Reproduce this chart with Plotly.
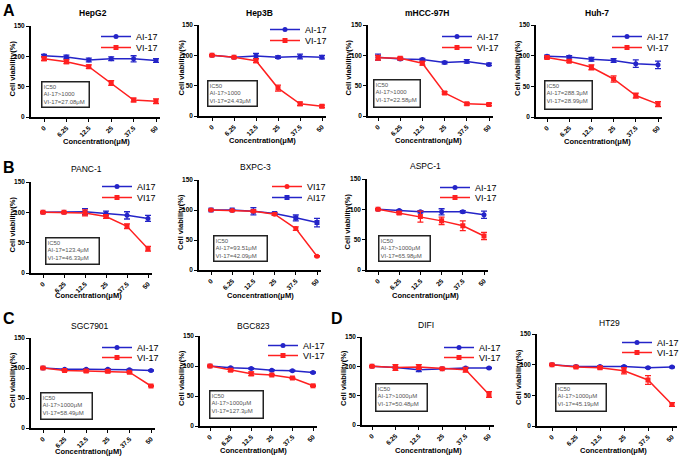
import plotly.graph_objects as go

W, H = 685, 458
FONT = "Arial, Liberation Sans, sans-serif"
BLUE = "#2424c8"
RED = "#ff2020"

conc = ["0", "6.25", "12.5", "25", "37.5", "50"]

# ---- data (cell viability %, mean and error) ----
hepg2_ai = [101, 99, 94, 96, 96, 93]
hepg2_ai_err = [2, 3, 3, 3, 5, 3]
hepg2_vi = [96, 91, 83, 56, 28, 26]
hepg2_vi_err = [3, 3, 3, 4, 3, 4]

hep3b_ai = [100, 97, 99, 97, 98, 97]
hep3b_ai_err = [1, 1, 4, 2, 4, 3]
hep3b_vi = [100, 97, 91, 46, 20, 16]
hep3b_vi_err = [1, 1, 3, 5, 3, 2]

mhcc_ai = [97, 94, 93, 88, 90, 85]
mhcc_ai_err = [5, 2, 2, 2, 3, 2]
mhcc_vi = [96, 95, 87, 38, 20, 19]
mhcc_vi_err = [4, 2, 3, 2, 2, 2]

huh7_ai = [99, 98, 94, 92, 87, 85]
huh7_ai_err = [2, 2, 3, 3, 6, 6]
huh7_vi = [97, 91, 81, 62, 35, 21]
huh7_vi_err = [2, 2, 4, 5, 4, 4]

panc1_ai = [100, 100, 101, 98, 95, 90]
panc1_ai_err = [1, 1, 5, 4, 6, 5]
panc1_vi = [100, 100, 99, 93, 77, 40]
panc1_vi_err = [1, 1, 5, 3, 4, 4]

bxpc3_ai = [100, 100, 98, 94, 87, 79]
bxpc3_ai_err = [1, 1, 6, 2, 5, 7]
bxpc3_vi = [100, 99, 98, 93, 69, 23]
bxpc3_vi_err = [1, 1, 2, 2, 3, 1]

aspc1_ai = [100, 98, 96, 96, 96, 91]
aspc1_ai_err = [1, 1, 2, 5, 2, 6]
aspc1_vi = [100, 94, 88, 81, 73, 56]
aspc1_vi_err = [1, 2, 9, 6, 8, 6]

sgc_ai = [100, 98, 98, 98, 97, 96]
sgc_ai_err = [1, 1, 1, 1, 1, 1]
sgc_vi = [100, 96, 95, 94.5, 93, 70]
sgc_vi_err = [1, 1, 2, 2, 1, 1]

bgc_ai = [100, 97, 96, 93, 92, 89]
bgc_ai_err = [1, 1, 1, 1, 1, 1]
bgc_vi = [100, 93, 87, 85, 80, 67]
bgc_vi_err = [1, 2, 3, 1, 1, 1]

difi_ai = [100, 98, 94, 96, 97, 97]
difi_ai_err = [1, 1, 3, 1, 1, 1]
difi_vi = [100, 98, 99, 96, 94, 52]
difi_vi_err = [1, 5, 4, 1, 4, 5]

ht29_ai = [100, 97, 97, 97, 95, 96]
ht29_ai_err = [1, 1, 1, 1, 1, 1]
ht29_vi = [100, 96, 95, 90, 75, 35]
ht29_vi_err = [1, 1, 2, 5, 7, 3]

titles = ["HepG2", "Hep3B", "mHCC-97H", "Huh-7", "PANC-1", "BXPC-3", "ASPC-1",
          "SGC7901", "BGC823", "DIFI", "HT29"]
ic50_texts = [
    ["IC50", "AI-17>1000", "VI-17=27.08μM"],
    ["IC50", "AI-17>1000", "VI-17=24.43μM"],
    ["IC50", "AI-17>1000", "VI-17=22.58μM"],
    ["IC50", "AI-17=288.3μM", "VI-17=28.99μM"],
    ["IC50", "AI-17=123.4μM", "VI-17=46.33μM"],
    ["IC50", "AI-17=93.51μM", "VI-17=42.09μM"],
    ["IC50", "AI-17>1000μM", "VI-17=65.98μM"],
    ["IC50", "AI-17>1000μM", "VI-17=58.49μM"],
    ["IC50", "AI-17>1000μM", "VI-17=127.3μM"],
    ["IC50", "AI-17>1000μM", "VI-17=50.48μM"],
    ["IC50", "AI-17>1000μM", "VI-17=45.19μM"],
]
series = [
    (hepg2_ai, hepg2_ai_err, hepg2_vi, hepg2_vi_err),
    (hep3b_ai, hep3b_ai_err, hep3b_vi, hep3b_vi_err),
    (mhcc_ai, mhcc_ai_err, mhcc_vi, mhcc_vi_err),
    (huh7_ai, huh7_ai_err, huh7_vi, huh7_vi_err),
    (panc1_ai, panc1_ai_err, panc1_vi, panc1_vi_err),
    (bxpc3_ai, bxpc3_ai_err, bxpc3_vi, bxpc3_vi_err),
    (aspc1_ai, aspc1_ai_err, aspc1_vi, aspc1_vi_err),
    (sgc_ai, sgc_ai_err, sgc_vi, sgc_vi_err),
    (bgc_ai, bgc_ai_err, bgc_vi, bgc_vi_err),
    (difi_ai, difi_ai_err, difi_vi, difi_vi_err),
    (ht29_ai, ht29_ai_err, ht29_vi, ht29_vi_err),
]
ai_names = ["AI-17"] * 4 + ["AI17", "AI17"] + ["AI-17"] * 5
vi_names = ["VI-17"] * 4 + ["VI17", "VI17"] + ["VI-17"] * 5
x_title = "Concentration(μM)"
y_title = "Cell viability(%)"

# ---- layout geometry in pixels ----
# (y-axis x, first point x, last point x, plot top, plot bottom)
geo = [
    (30.7, 44, 156, 26, 117), (199, 212, 322, 25, 116), (368, 378, 489, 25, 116),
    (536, 547, 658, 25, 117), (31, 43, 148, 182, 273), (199, 211, 317, 180, 270),
    (367, 378, 484, 179, 270), (31, 43, 151, 338, 428), (200, 210, 313, 336, 426),
    (362, 372, 489, 337, 425), (537, 552, 672, 334, 426),
]
title_pos = [(93, 13), (259, 13), (427, 13), (597, 13), (86, 169), (256, 167),
             (425, 166), (90, 326), (253, 326), (426, 325), (609, 323)]
legend_pos = [(136, 32, 43), (305, 25, 36), (477, 32, 43), (647, 32, 43),
              (137, 182, 193), (307, 182, 193), (475, 183, 193), (137, 343, 353),
              (303, 341, 351), (479, 343, 353), (657, 338, 348)]
box_pos = [(41, 81, 49, 27), (207, 80, 51, 27), (373, 79, 48, 29), (544, 80, 49, 30),
           (45, 237, 55, 28), (213, 235, 55, 27), (378, 235, 53, 27), (40, 392, 53, 28),
           (209, 390, 55, 29), (375, 383, 53, 29), (555, 383, 52, 29)]
xtitle_pos = [(96, 142), (262, 140), (428, 140), (597, 142), (88, 295), (260, 295),
              (425, 295), (88, 451), (253, 450), (428, 450), (613, 450)]
ytitle_x = [12, 181, 348, 517, 12, 180, 347, 12, 181, 343, 518]
letters = [("A", 9, 10), ("B", 9, 168), ("C", 9, 318), ("D", 337, 318)]

fig = go.Figure()
layout = dict(
    width=W, height=H, margin=dict(l=0, r=0, t=0, b=0, autoexpand=False),
    paper_bgcolor="white", plot_bgcolor="white",
    font=dict(family=FONT, color="black"),
    showlegend=True,
    annotations=[],
)


def px_x(v):
    return v / W


def px_y(v):
    return 1 - v / H


def ann(text, x, y, **kw):
    d = dict(text=text, x=px_x(x), y=px_y(y), xref="paper", yref="paper",
             showarrow=False, xanchor="center", yanchor="middle")
    d.update(kw)
    layout["annotations"].append(d)


for i in range(11):
    n = i + 1
    sfx = "" if n == 1 else str(n)
    ai, ai_e, vi, vi_e = series[i]
    swap = (i == 5)  # BXPC-3: VI17 listed first, markers swapped
    ai_sym = "square" if swap else "circle"
    vi_sym = "circle" if swap else "square"
    lx, ly1, ly2 = legend_pos[i]
    lg_a = f"legend{2 * i + 2}"
    lg_b = f"legend{2 * i + 3}"
    ai_lg, vi_lg = (lg_b, lg_a) if swap else (lg_a, lg_b)
    for name, y, e, col, sym, lg in [
        (ai_names[i], ai, ai_e, BLUE, ai_sym, ai_lg),
        (vi_names[i], vi, vi_e, RED, vi_sym, vi_lg),
    ]:
        fig.add_trace(go.Scatter(
            x=conc, y=y, name=name, mode="lines+markers",
            line=dict(color=col, width=1.5),
            marker=dict(color=col, symbol=sym, size=5),
            error_y=dict(type="data", array=e, color=col, thickness=1.3, width=3),
            xaxis="x" + sfx, yaxis="y" + sfx, legend=lg, showlegend=True,
        ))
    for lg, ly in [(lg_a, ly1), (lg_b, ly2)]:
        layout[lg] = dict(
            x=px_x(lx - 40), y=px_y(ly - 10), xanchor="left", yanchor="top",
            bgcolor="rgba(0,0,0,0)", font=dict(size=9, family=FONT),
            itemwidth=30, visible=True,
        )

    yx, x0, x50, top, bot = geo[i]
    s = (x50 - x0) / 5
    end = x50 + 0.2 * s
    rng = [-(x0 - yx) / s, 5.2]
    layout["xaxis" + sfx] = dict(
        domain=[px_x(yx), px_x(end)], anchor="y" + sfx, type="category",
        range=rng, showline=True, linecolor="black", linewidth=1.5,
        ticks="outside", ticklen=3, tickwidth=1.3, tickcolor="black",
        tickangle=-45, tickfont=dict(size=6.5, weight="bold"),
        showgrid=False, zeroline=False,
    )
    layout["yaxis" + sfx] = dict(
        domain=[px_y(bot), px_y(top)], anchor="x" + sfx,
        range=[0, 150], tickvals=[0, 50, 100, 150],
        showline=True, linecolor="black", linewidth=1.5,
        ticks="outside", ticklen=3, tickwidth=1.3, tickcolor="black",
        tickfont=dict(size=6.5, weight="bold"),
        showgrid=False, zeroline=False,
    )
    tx, ty = title_pos[i]
    ann(titles[i], tx, ty, font=dict(size=8.5, weight="bold" if i < 4 else "normal"))
    xtx, xty = xtitle_pos[i]
    ann(x_title, xtx, xty, font=dict(size=7.5, weight="bold"))
    ann(y_title, ytitle_x[i], (top + bot) / 2 - 3, textangle=-90,
        font=dict(size=7.5, weight="bold"))
    bx, by, bw, bh = box_pos[i]
    ann("<br>".join(ic50_texts[i]), bx, by, xanchor="left", yanchor="top",
        align="left", valign="top", width=bw - 5, height=bh - 5, borderpad=1,
        borderwidth=1.5, bordercolor="#222", bgcolor="white",
        font=dict(size=6, color="#555"))

for t, lx, ly in letters:
    ann(t, lx, ly, font=dict(size=16, weight="bold"))

fig.update_layout(**layout)
fig.write_html(
    "out.html",
    config={"displayModeBar": False},
    post_script="document.body.style.margin='0';document.body.style.padding='0';",
)
